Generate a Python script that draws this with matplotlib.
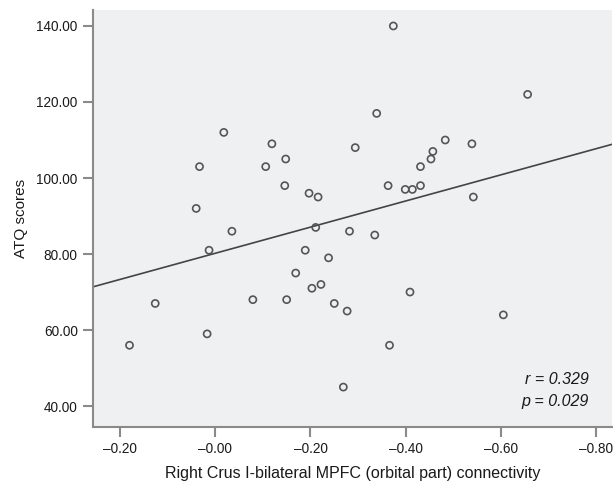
#!/usr/bin/env python3
"""Scatter of ATQ scores against right Crus I - MPFC connectivity."""

import matplotlib
matplotlib.use("Agg")
import matplotlib.pyplot as plt
import numpy as np

# connectivity values (axis runs from +0.2 on the left to -0.8 on the right)
connectivity = [
    -0.374, -0.656, -0.339, -0.018, -0.483, -0.119, -0.539, -0.294, -0.457,
    -0.148, -0.453, 0.033, -0.106, -0.431, -0.146, -0.363, -0.431, -0.197,
    -0.399, -0.414, -0.216, -0.542, 0.040, -0.211, -0.035, -0.282, -0.335,
    0.013, -0.189, -0.238, -0.169, -0.222, -0.203, -0.409, 0.126, -0.079,
    -0.150, -0.250, -0.277, -0.605, 0.017, 0.180, -0.366, -0.269,
]
atq_scores = [
    140, 122, 117, 112, 110, 109, 109, 108, 107,
    105, 105, 103, 103, 103, 98, 98, 98, 96,
    97, 97, 95, 95, 92, 87, 86, 86, 85,
    81, 81, 79, 75, 72, 71, 70, 67, 68,
    68, 67, 65, 64, 59, 56, 56, 45,
]

# fitted line
fit_intercept = 80.2
fit_slope = -34.4

x_ticks = [0.2, 0.0, -0.2, -0.4, -0.6, -0.8]
x_tick_labels = ["\u20130.20", "\u20130.00", "\u20130.20", "\u20130.40", "\u20130.60", "\u20130.80"]
y_ticks = [40, 60, 80, 100, 120, 140]

plt.rcParams["font.family"] = ["Liberation Sans", "DejaVu Sans"]

fig = plt.figure(figsize=(6.13, 4.88), dpi=100)
ax = fig.add_axes([0.1517, 0.125, 0.847, 0.8545])
ax.set_facecolor("#eff0f2")

ax.scatter(connectivity, atq_scores, s=26, facecolors="none",
           edgecolors="#555555", linewidths=1.2, zorder=3)

xlim = (0.2567, -0.8336)
xs = np.array(xlim)
ax.plot(xs, fit_intercept + fit_slope * xs, color="#444444", linewidth=1.2, zorder=2)

ax.set_xlim(*xlim)
ax.set_ylim(34.5, 144.2)

ax.set_xticks(x_ticks)
ax.set_xticklabels(x_tick_labels)
ax.set_yticks(y_ticks)
ax.set_yticklabels([f"{v:.2f}" for v in y_ticks])

for side in ["top", "right"]:
    ax.spines[side].set_visible(False)
for side in ["left", "bottom"]:
    ax.spines[side].set_color("#8a8a8a")
    ax.spines[side].set_linewidth(1.5)

ax.tick_params(direction="out", length=7, width=1.5, color="#8a8a8a",
               labelsize=9.8, labelcolor="#1a1a1a", pad=4)

ax.set_xlabel("Right Crus I-bilateral MPFC (orbital part) connectivity",
              fontsize=11.5, color="#1a1a1a", labelpad=7)
ax.set_ylabel("ATQ scores", fontsize=11, color="#1a1a1a", labelpad=6)

ax.text(0.954, 0.113, "r = 0.329", transform=ax.transAxes, ha="right",
        va="center", fontsize=11.5, style="italic", color="#1a1a1a")
ax.text(0.954, 0.060, "p = 0.029", transform=ax.transAxes, ha="right",
        va="center", fontsize=11.5, style="italic", color="#1a1a1a")

plt.savefig("out.png", dpi=100)
plt.close()
